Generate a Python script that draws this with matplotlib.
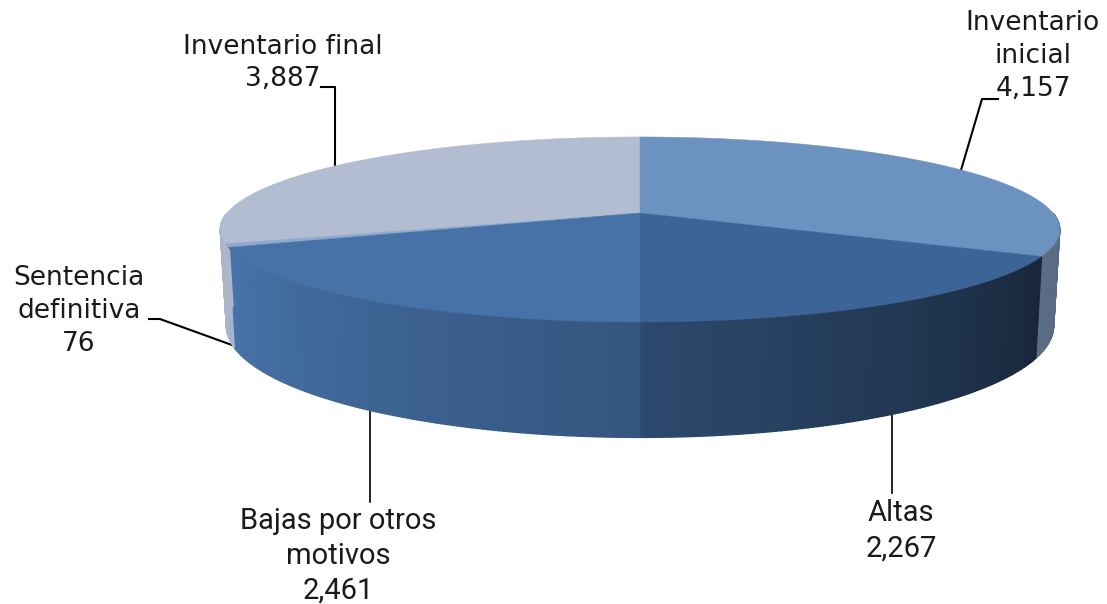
import numpy as np
import matplotlib
matplotlib.use("Agg")
import matplotlib.pyplot as plt
from matplotlib.colors import to_rgb

# --- data ---
categories = ["Inventario inicial", "Altas", "Bajas por otros motivos", "Sentencia definitiva", "Inventario final"]
values = [4157, 2267, 2461, 76, 3887]
label_texts = ["Inventario\ninicial\n4,157", "Altas\n2,267", "Bajas por otros\nmotivos\n2,461",
               "Sentencia\ndefinitiva\n76", "Inventario final\n3,887"]

# --- styles ---
top_colors = ["#6C93BF", "#3C6496", "#4672A8", "#8FA9CC", "#B2BDD2"]
wall_from = ["#4A5B74", "#18263A", "#34557F", "#A3B6D2", "#A9B4C8"]   # colour at slice start
wall_to = ["#5B6C85", "#2C4A6E", "#4874AA", "#A3B6D2", "#C0C8D8"]     # colour at slice end

W, H = 1107, 604
fig = plt.figure(figsize=(W / 100, H / 100), dpi=100)
ax = fig.add_axes([0, 0, 1, 1])
ax.set_xlim(0, W)
ax.set_ylim(H, 0)
ax.axis("off")

CX, K = 640.0, 0.178


def project(theta_deg, y0, a, A):
    t = np.radians(theta_deg)
    u, v = np.sin(t), np.cos(t)
    w = 1 + K * v
    return CX + A * u / w, y0 - a * v / w


def top_rim(t):
    return project(t, 213.0, 89.6, 413.0)


def low_rim(t):
    return project(t, 306.0, 108.0, 407.0)


fractions = np.array(values) / sum(values)
edges = np.concatenate([[0], np.cumsum(fractions) * 360])

# walls (front half only; tops cover the remainder)
for i in range(len(values)):
    a0, a1 = max(edges[i], 90), min(edges[i + 1], 270)
    if a1 <= a0:
        continue
    n = max(2, int((a1 - a0) * 1.5))
    ts = np.linspace(a0, a1, n + 1)
    c0, c1 = np.array(to_rgb(wall_from[i])), np.array(to_rgb(wall_to[i]))
    for j in range(n):
        f = (ts[j] - edges[i]) / (edges[i + 1] - edges[i])
        col = c0 + (c1 - c0) * f
        seg = np.linspace(ts[j], ts[j + 1], 4)
        xt, yt = top_rim(seg)
        xb, yb = low_rim(seg)
        ax.fill(np.r_[xt, xb[::-1]], np.r_[yt, yb[::-1]], fc=col, ec=col, lw=1.0, zorder=2)

# tops
for i in [4, 0, 1, 3, 2]:
    ts = np.linspace(edges[i], edges[i + 1], 200)
    x, y = top_rim(ts)
    ax.fill(np.r_[CX, x], np.r_[213.0, y], fc=top_colors[i], ec=top_colors[i], lw=0.3, zorder=3)

# leaders
mids = (edges[:-1] + edges[1:]) / 2
lw_top, lw_low = 1.5, 1.2
xa, ya = top_rim(mids[0])
ax.plot([xa, 982, 998], [ya, 99, 99], color="k", lw=lw_top, zorder=1)
xa, ya = low_rim(mids[1])
ax.plot([xa, xa], [ya, 493], color="k", lw=lw_low, zorder=1)
xa, ya = low_rim(mids[2])
ax.plot([xa, xa], [ya, 502], color="k", lw=lw_low, zorder=1)
xa, ya = low_rim(mids[3])
ax.plot([xa, 160, 149], [ya, 319, 319], color="k", lw=lw_top, zorder=1)
xa, ya = top_rim(mids[4])
ax.plot([xa, xa, 321], [ya, 87, 87], color="k", lw=lw_top, zorder=1)

# labels
wide = dict(family="DejaVu Sans", fontsize=19, linespacing=1.34)
narrow = dict(family="Roboto", fontsize=21, linespacing=1.32)
kw = dict(ha="center", va="center", color="#1a1a1a", zorder=5)
ax.text(1033, 56, label_texts[0], **wide, **kw)
ax.text(901, 531, label_texts[1], **narrow, **kw)
ax.text(338, 556, label_texts[2], **narrow, **kw)
ax.text(79, 311, label_texts[3], **wide, **kw)
ax.text(283, 63, label_texts[4], **wide, **kw)

fig.savefig("out.png", dpi=100, facecolor="white")
